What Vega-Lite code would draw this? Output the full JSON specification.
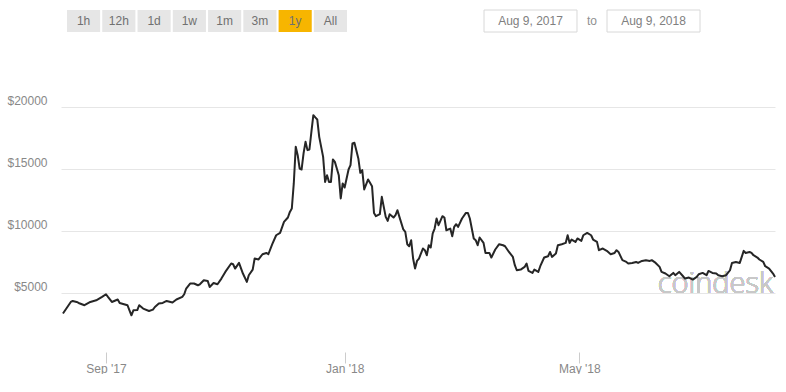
{
  "$schema": "https://vega.github.io/schema/vega-lite/v6.json",
  "padding": {"left": 6, "top": 9, "right": 0, "bottom": 0},
  "spacing": 49,
  "config": {
    "view": {"stroke": null},
    "font": "Liberation Sans",
    "text": {"font": "Liberation Sans"}
  },
  "datasets": {
    "buttons": [
      {"label": "1h", "state": "off"},
      {"label": "12h", "state": "off"},
      {"label": "1d", "state": "off"},
      {"label": "1w", "state": "off"},
      {"label": "1m", "state": "off"},
      {"label": "3m", "state": "off"},
      {"label": "1y", "state": "on"},
      {"label": "All", "state": "off"}
    ],
    "range": [
      {"box": "Aug 9, 2017", "pre": ""},
      {"box": "Aug 9, 2018", "pre": "to"}
    ],
    "btc": [
      {"date": "2017-08-10", "price": 3340},
      {"date": "2017-08-14", "price": 4275},
      {"date": "2017-08-15", "price": 4355},
      {"date": "2017-08-17", "price": 4275},
      {"date": "2017-08-18", "price": 4195},
      {"date": "2017-08-21", "price": 4010},
      {"date": "2017-08-24", "price": 4275},
      {"date": "2017-08-27", "price": 4410},
      {"date": "2017-08-30", "price": 4680},
      {"date": "2017-09-01", "price": 4895},
      {"date": "2017-09-02", "price": 4680},
      {"date": "2017-09-04", "price": 4275},
      {"date": "2017-09-07", "price": 4470},
      {"date": "2017-09-08", "price": 4195},
      {"date": "2017-09-12", "price": 4010},
      {"date": "2017-09-13", "price": 3600},
      {"date": "2017-09-14", "price": 3200},
      {"date": "2017-09-15", "price": 3600},
      {"date": "2017-09-17", "price": 3620},
      {"date": "2017-09-18", "price": 4010},
      {"date": "2017-09-20", "price": 3740},
      {"date": "2017-09-23", "price": 3550},
      {"date": "2017-09-25", "price": 3660},
      {"date": "2017-09-26", "price": 3870},
      {"date": "2017-09-28", "price": 4145},
      {"date": "2017-09-30", "price": 4195},
      {"date": "2017-10-02", "price": 4355},
      {"date": "2017-10-05", "price": 4225},
      {"date": "2017-10-07", "price": 4470},
      {"date": "2017-10-10", "price": 4680},
      {"date": "2017-10-11", "price": 4895},
      {"date": "2017-10-12", "price": 5355},
      {"date": "2017-10-14", "price": 5760},
      {"date": "2017-10-16", "price": 5760},
      {"date": "2017-10-18", "price": 5620},
      {"date": "2017-10-19", "price": 5700},
      {"date": "2017-10-21", "price": 6025},
      {"date": "2017-10-23", "price": 5970},
      {"date": "2017-10-24", "price": 5485},
      {"date": "2017-10-26", "price": 5805},
      {"date": "2017-10-28", "price": 5700},
      {"date": "2017-10-30", "price": 6160},
      {"date": "2017-11-01", "price": 6695},
      {"date": "2017-11-04", "price": 7370},
      {"date": "2017-11-05", "price": 7315},
      {"date": "2017-11-06", "price": 6965},
      {"date": "2017-11-08", "price": 7420},
      {"date": "2017-11-10", "price": 6565},
      {"date": "2017-11-12", "price": 5890},
      {"date": "2017-11-13", "price": 6430},
      {"date": "2017-11-15", "price": 6885},
      {"date": "2017-11-16", "price": 7775},
      {"date": "2017-11-18", "price": 7700},
      {"date": "2017-11-20", "price": 8120},
      {"date": "2017-11-22", "price": 8225},
      {"date": "2017-11-23", "price": 8120},
      {"date": "2017-11-25", "price": 8930},
      {"date": "2017-11-27", "price": 9650},
      {"date": "2017-11-29", "price": 9840},
      {"date": "2017-12-01", "price": 10725},
      {"date": "2017-12-03", "price": 11080},
      {"date": "2017-12-04", "price": 11530},
      {"date": "2017-12-05", "price": 11805},
      {"date": "2017-12-06", "price": 13825},
      {"date": "2017-12-07", "price": 16775},
      {"date": "2017-12-08", "price": 16105},
      {"date": "2017-12-09", "price": 15030},
      {"date": "2017-12-10", "price": 14950},
      {"date": "2017-12-11", "price": 16245},
      {"date": "2017-12-12", "price": 17180},
      {"date": "2017-12-13", "price": 16510},
      {"date": "2017-12-14", "price": 16560},
      {"date": "2017-12-15", "price": 17985},
      {"date": "2017-12-16", "price": 19330},
      {"date": "2017-12-17", "price": 19145},
      {"date": "2017-12-18", "price": 18980},
      {"date": "2017-12-19", "price": 17580},
      {"date": "2017-12-21", "price": 15970},
      {"date": "2017-12-22", "price": 13950},
      {"date": "2017-12-23", "price": 14490},
      {"date": "2017-12-24", "price": 13950},
      {"date": "2017-12-25", "price": 13950},
      {"date": "2017-12-26", "price": 15760},
      {"date": "2017-12-27", "price": 15565},
      {"date": "2017-12-28", "price": 15030},
      {"date": "2017-12-29", "price": 14490},
      {"date": "2017-12-30", "price": 12615},
      {"date": "2017-12-31", "price": 13825},
      {"date": "2018-01-01", "price": 13500},
      {"date": "2018-01-03", "price": 14950},
      {"date": "2018-01-04", "price": 15300},
      {"date": "2018-01-05", "price": 17050},
      {"date": "2018-01-06", "price": 17100},
      {"date": "2018-01-08", "price": 15840},
      {"date": "2018-01-09", "price": 14680},
      {"date": "2018-01-10", "price": 14900},
      {"date": "2018-01-11", "price": 13340},
      {"date": "2018-01-13", "price": 14145},
      {"date": "2018-01-15", "price": 13605},
      {"date": "2018-01-16", "price": 11450},
      {"date": "2018-01-17", "price": 11185},
      {"date": "2018-01-19", "price": 11350},
      {"date": "2018-01-20", "price": 12745},
      {"date": "2018-01-22", "price": 11130},
      {"date": "2018-01-23", "price": 10810},
      {"date": "2018-01-24", "price": 11350},
      {"date": "2018-01-26", "price": 11080},
      {"date": "2018-01-27", "price": 11265},
      {"date": "2018-01-28", "price": 11670},
      {"date": "2018-01-29", "price": 11130},
      {"date": "2018-01-31", "price": 10115},
      {"date": "2018-02-01", "price": 9920},
      {"date": "2018-02-02", "price": 8930},
      {"date": "2018-02-03", "price": 8765},
      {"date": "2018-02-04", "price": 9250},
      {"date": "2018-02-05", "price": 7775},
      {"date": "2018-02-06", "price": 6965},
      {"date": "2018-02-07", "price": 7580},
      {"date": "2018-02-08", "price": 7775},
      {"date": "2018-02-10", "price": 8580},
      {"date": "2018-02-11", "price": 8445},
      {"date": "2018-02-12", "price": 8040},
      {"date": "2018-02-13", "price": 8845},
      {"date": "2018-02-14", "price": 8660},
      {"date": "2018-02-15", "price": 9790},
      {"date": "2018-02-16", "price": 10190},
      {"date": "2018-02-17", "price": 11000},
      {"date": "2018-02-18", "price": 10460},
      {"date": "2018-02-20", "price": 11185},
      {"date": "2018-02-21", "price": 11080},
      {"date": "2018-02-22", "price": 10055},
      {"date": "2018-02-24", "price": 10190},
      {"date": "2018-02-25", "price": 9570},
      {"date": "2018-02-26", "price": 10325},
      {"date": "2018-02-27", "price": 10540},
      {"date": "2018-02-28", "price": 10325},
      {"date": "2018-03-02", "price": 11000},
      {"date": "2018-03-04", "price": 11450},
      {"date": "2018-03-05", "price": 11450},
      {"date": "2018-03-06", "price": 11000},
      {"date": "2018-03-08", "price": 9390},
      {"date": "2018-03-09", "price": 9250},
      {"date": "2018-03-10", "price": 8845},
      {"date": "2018-03-11", "price": 9470},
      {"date": "2018-03-13", "price": 9035},
      {"date": "2018-03-14", "price": 8225},
      {"date": "2018-03-16", "price": 8225},
      {"date": "2018-03-17", "price": 7855},
      {"date": "2018-03-19", "price": 8500},
      {"date": "2018-03-21", "price": 8930},
      {"date": "2018-03-23", "price": 8845},
      {"date": "2018-03-24", "price": 8765},
      {"date": "2018-03-26", "price": 8305},
      {"date": "2018-03-28", "price": 7905},
      {"date": "2018-03-29", "price": 7235},
      {"date": "2018-03-30", "price": 6830},
      {"date": "2018-04-01", "price": 6885},
      {"date": "2018-04-03", "price": 7100},
      {"date": "2018-04-04", "price": 7370},
      {"date": "2018-04-05", "price": 6775},
      {"date": "2018-04-07", "price": 6615},
      {"date": "2018-04-08", "price": 6885},
      {"date": "2018-04-10", "price": 6695},
      {"date": "2018-04-11", "price": 7155},
      {"date": "2018-04-13", "price": 7855},
      {"date": "2018-04-15", "price": 7960},
      {"date": "2018-04-16", "price": 8305},
      {"date": "2018-04-17", "price": 7905},
      {"date": "2018-04-19", "price": 8180},
      {"date": "2018-04-20", "price": 8845},
      {"date": "2018-04-22", "price": 8930},
      {"date": "2018-04-24", "price": 9035},
      {"date": "2018-04-25", "price": 9650},
      {"date": "2018-04-26", "price": 9035},
      {"date": "2018-04-27", "price": 9305},
      {"date": "2018-04-29", "price": 9115},
      {"date": "2018-04-30", "price": 9390},
      {"date": "2018-05-02", "price": 9200},
      {"date": "2018-05-03", "price": 9650},
      {"date": "2018-05-05", "price": 9840},
      {"date": "2018-05-07", "price": 9650},
      {"date": "2018-05-08", "price": 9305},
      {"date": "2018-05-10", "price": 9115},
      {"date": "2018-05-11", "price": 8445},
      {"date": "2018-05-13", "price": 8580},
      {"date": "2018-05-15", "price": 8400},
      {"date": "2018-05-17", "price": 8120},
      {"date": "2018-05-19", "price": 8225},
      {"date": "2018-05-20", "price": 8445},
      {"date": "2018-05-21", "price": 8305},
      {"date": "2018-05-23", "price": 7640},
      {"date": "2018-05-25", "price": 7500},
      {"date": "2018-05-26", "price": 7370},
      {"date": "2018-05-28", "price": 7420},
      {"date": "2018-05-30", "price": 7500},
      {"date": "2018-05-31", "price": 7420},
      {"date": "2018-06-02", "price": 7580},
      {"date": "2018-06-04", "price": 7640},
      {"date": "2018-06-06", "price": 7580},
      {"date": "2018-06-07", "price": 7640},
      {"date": "2018-06-09", "price": 7420},
      {"date": "2018-06-11", "price": 7100},
      {"date": "2018-06-12", "price": 6695},
      {"date": "2018-06-14", "price": 6565},
      {"date": "2018-06-16", "price": 6345},
      {"date": "2018-06-18", "price": 6615},
      {"date": "2018-06-19", "price": 6430},
      {"date": "2018-06-21", "price": 6695},
      {"date": "2018-06-23", "price": 6345},
      {"date": "2018-06-24", "price": 6160},
      {"date": "2018-06-26", "price": 6240},
      {"date": "2018-06-28", "price": 6080},
      {"date": "2018-06-30", "price": 6290},
      {"date": "2018-07-01", "price": 6510},
      {"date": "2018-07-03", "price": 6615},
      {"date": "2018-07-05", "price": 6430},
      {"date": "2018-07-06", "price": 6775},
      {"date": "2018-07-08", "price": 6615},
      {"date": "2018-07-10", "price": 6565},
      {"date": "2018-07-11", "price": 6430},
      {"date": "2018-07-13", "price": 6345},
      {"date": "2018-07-15", "price": 6430},
      {"date": "2018-07-17", "price": 6830},
      {"date": "2018-07-18", "price": 7420},
      {"date": "2018-07-20", "price": 7500},
      {"date": "2018-07-22", "price": 7420},
      {"date": "2018-07-23", "price": 7905},
      {"date": "2018-07-24", "price": 8390},
      {"date": "2018-07-25", "price": 8225},
      {"date": "2018-07-27", "price": 8300},
      {"date": "2018-07-28", "price": 8225},
      {"date": "2018-07-29", "price": 8040},
      {"date": "2018-07-31", "price": 7855},
      {"date": "2018-08-01", "price": 7695},
      {"date": "2018-08-03", "price": 7500},
      {"date": "2018-08-04", "price": 7155},
      {"date": "2018-08-06", "price": 6965},
      {"date": "2018-08-08", "price": 6565},
      {"date": "2018-08-09", "price": 6290}
    ]
  },
  "vconcat": [
    {
      "spacing": 116,
      "hconcat": [
        {
          "width": 292,
          "height": 22,
          "data": {"name": "buttons"},
          "encoding": {
            "x": {
              "field": "label",
              "type": "nominal",
              "sort": null,
              "scale": {"paddingInner": 0.06, "paddingOuter": 0.17},
              "axis": null
            }
          },
          "layer": [
            {
              "mark": {"type": "rect"},
              "encoding": {
                "color": {
                  "field": "state",
                  "type": "nominal",
                  "scale": {"domain": ["off", "on"], "range": ["#e6e6e6", "#f7b500"]},
                  "legend": null
                }
              }
            },
            {
              "mark": {"type": "text", "fontSize": 12, "baseline": "middle", "align": "center", "color": "#707070"},
              "encoding": {"text": {"field": "label"}}
            }
          ]
        },
        {
          "width": 216,
          "height": 22,
          "data": {"name": "range"},
          "encoding": {
            "x": {
              "field": "box",
              "type": "nominal",
              "sort": null,
              "scale": {"paddingInner": 0.244, "paddingOuter": 0},
              "axis": null
            }
          },
          "layer": [
            {"mark": {"type": "rect", "fill": "#ffffff", "stroke": "#d8d8d8", "strokeWidth": 1}},
            {
              "mark": {"type": "text", "fontSize": 12, "baseline": "middle", "align": "center", "color": "#808080"},
              "encoding": {"text": {"field": "box"}}
            },
            {
              "mark": {"type": "text", "fontSize": 12, "baseline": "middle", "align": "center", "color": "#909090", "dx": -15},
              "encoding": {
                "x": {"field": "box", "type": "nominal", "sort": null, "bandPosition": 0},
                "text": {"field": "pre"}
              }
            }
          ]
        }
      ]
    },
    {
      "width": 714,
      "height": 273,
      "data": {"name": "btc"},
      "layer": [
        {
          "mark": {"type": "text", "text": "coindesk", "font": "Open Sans", "fontWeight": 300, "fontSize": 29, "color": "#c8c8c8", "align": "right", "baseline": "alphabetic", "dx": -2},
          "encoding": {
            "x": {"datum": {"year": 2018, "month": 8, "date": 9, "utc": true}, "type": "temporal"},
            "y": {"datum": 5000, "type": "quantitative"}
          }
        },
        {
          "mark": {"type": "line", "color": "#262626", "strokeWidth": 2, "strokeJoin": "round"},
          "encoding": {
            "x": {
              "field": "date",
              "type": "temporal",
              "scale": {
                "type": "utc",
                "domain": [
                  {"year": 2017, "month": 8, "date": 9, "utc": true},
                  {"year": 2018, "month": 8, "date": 9, "utc": true}
                ]
              },
              "axis": {
                "values": [
                  {"year": 2017, "month": 9, "date": 1, "utc": true},
                  {"year": 2018, "month": 1, "date": 1, "utc": true},
                  {"year": 2018, "month": 5, "date": 1, "utc": true}
                ],
                "format": "%b '%y",
                "title": null,
                "domain": false,
                "grid": false,
                "tickColor": "#cccccc",
                "tickSize": 11,
                "offset": -3,
                "labelPadding": 0,
                "labelColor": "#888888",
                "labelFontSize": 12,
                "labelFont": "Liberation Sans"
              }
            },
            "y": {
              "field": "price",
              "type": "quantitative",
              "scale": {"domain": [0, 22000], "nice": false, "zero": false},
              "axis": {
                "values": [5000, 10000, 15000, 20000],
                "labelExpr": "'$' + datum.value",
                "title": null,
                "domain": false,
                "ticks": false,
                "grid": true,
                "gridColor": "#e6e6e6",
                "labelPadding": 14,
                "labelBaseline": "alphabetic",
                "labelOffset": -2,
                "labelColor": "#888888",
                "labelFontSize": 12,
                "labelFont": "Liberation Sans"
              }
            }
          }
        }
      ]
    }
  ]
}
